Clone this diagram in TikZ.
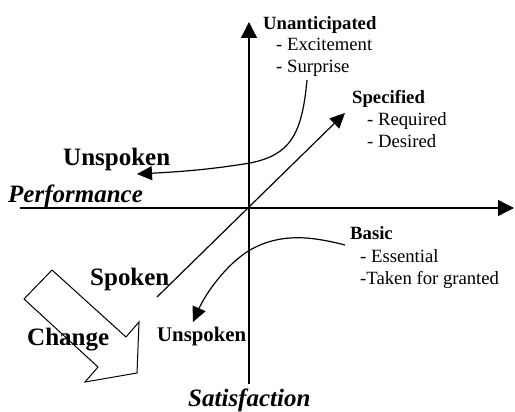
\documentclass[tikz,border=0pt]{standalone}
\usepackage{fontspec}
\setmainfont{Liberation Serif}
\usetikzlibrary{arrows.meta}
\begin{document}
\begin{tikzpicture}[x=1pt,y=-1pt,
  lbl/.style={anchor=base west,inner sep=0pt,font=\fontsize{18.7}{20}\selectfont},
  hdr/.style={lbl,font=\fontsize{18.7}{20}\selectfont\bfseries},
  big/.style={anchor=base west,inner sep=0pt,font=\fontsize{25}{28}\selectfont\bfseries},
  bigit/.style={anchor=base west,inner sep=0pt,font=\fontsize{25}{28}\selectfont\bfseries\itshape},
  axis/.style={line width=1.3pt,-{Triangle[length=16pt,width=16pt]}},
  conn/.style={line width=1.2pt,-{Triangle[length=15pt,width=14pt]}}]
\useasboundingbox (0,0) rectangle (515,412);
% coordinates
\coordinate (hl) at (20,208);
\coordinate (hr) at (514,208);
\coordinate (vb) at (249,384);
\coordinate (vt) at (249,22);
\coordinate (ds) at (157,297);
\coordinate (de) at (345,113);
\coordinate (us) at (307,80);
\coordinate (um) at (250,163);
\coordinate (ue) at (137,174);
\coordinate (bs) at (345,245);
\coordinate (bm) at (250,250);
\coordinate (be) at (193,322);
% Change block arrow
\draw[line width=1pt,fill=white] (52,270) -- (126,337) -- (139,322) -- (137,373) -- (85,382) -- (98,367) -- (24,299) -- cycle;
% axes
\draw[axis] (hl) -- (hr);
\draw[axis] (vb) -- (vt);
\draw[conn] (ds) -- (de);
\draw[conn] (us) .. controls (302,135) and (290,155) .. (um) .. controls (208,170) and (175,172) .. (ue);
\draw[conn] (bs) .. controls (310,236) and (280,233) .. (bm) .. controls (225,265) and (205,295) .. (be);
% texts
\node[hdr] (unant) at (263,30) {Unanticipated};
\node[lbl] (excit) at (276,51) {- Excitement};
\node[lbl] (surpr) at (276,73) {- Surprise};
\node[hdr] (spec) at (352,104) {Specified};
\node[lbl] (req) at (367,126) {- Required};
\node[lbl] (des) at (367,147) {- Desired};
\node[hdr] (basic) at (350,239) {Basic};
\node[lbl] (ess) at (360,262) {- Essential};
\node[lbl] (tak) at (360,284) {-Taken for granted};
\node[big] (unsp1) at (63,166) {Unspoken};
\node[bigit] (perf) at (8,202) {Performance};
\node[big] (spok) at (90,285) {Spoken};
\node[big] (chg) at (27,345) {Change};
\node[anchor=base west,inner sep=0pt,font=\fontsize{20.8}{22}\selectfont\bfseries] (unsp2) at (157,341) {Unspoken};
\node[bigit] (sat) at (188,406) {Satisfaction};
\end{tikzpicture}
\end{document}
